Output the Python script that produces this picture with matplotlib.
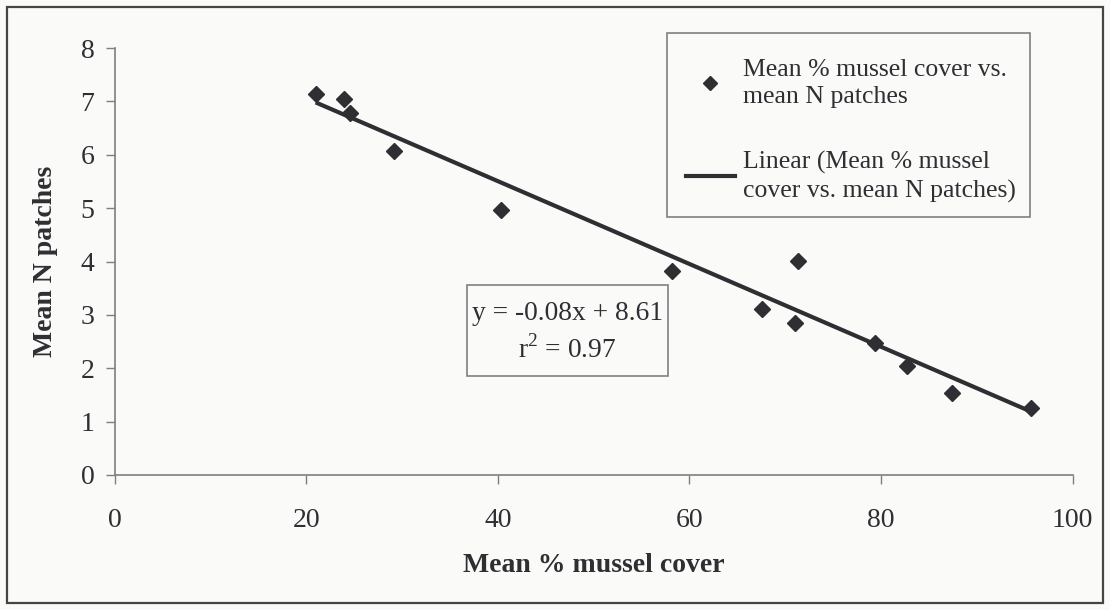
import matplotlib
matplotlib.use("Agg")
import matplotlib.pyplot as plt
from matplotlib.patches import Rectangle
from matplotlib.lines import Line2D
import numpy as np

# Mean % mussel cover vs. mean number of patches
mussel_cover = [21.0, 24.0, 24.6, 29.2, 40.3, 58.2, 67.6, 71.0, 71.3, 79.4, 82.7, 87.4, 95.7]
n_patches = [7.13, 7.05, 6.78, 6.07, 4.96, 3.83, 3.11, 2.84, 4.01, 2.48, 2.05, 1.53, 1.26]

# Linear trendline parameters
slope = -0.0776
intercept = 8.61
r_squared = 0.97

x_ticks = [0, 20, 40, 60, 80, 100]
y_ticks = [0, 1, 2, 3, 4, 5, 6, 7, 8]

x_title = "Mean % mussel cover"
y_title = "Mean N patches"
series_label = "Mean % mussel cover vs.\nmean N patches"
trend_label = "Linear (Mean % mussel\ncover vs. mean N patches)"

plt.rcParams["font.family"] = ["Liberation Serif", "DejaVu Serif"]
plt.rcParams["mathtext.fontset"] = "custom"
plt.rcParams["mathtext.rm"] = "Liberation Serif"

W, H = 1110, 610
bg = "#fafaf8"
ink = "#2e2e33"
axis_gray = "#7f7f7f"
box_gray = "#808080"

fig = plt.figure(figsize=(W / 100, H / 100), dpi=100, facecolor=bg)


def px_rect(x0, y0, x1, y1, **kw):
    """Rectangle given in pixel coordinates measured from the top-left corner."""
    return Rectangle((x0 / W, (H - y1) / H), (x1 - x0) / W, (y1 - y0) / H,
                     transform=fig.transFigure, **kw)


# outer chart frame
fig.patches.append(px_rect(7, 7, 1103, 603, fill=False,
                           edgecolor="#444444", linewidth=1.6))

ax_left, ax_right = 114.5, 1072.7
ax_top, ax_bottom = 48.0, 475.0
ax = fig.add_axes([ax_left / W, (H - ax_bottom) / H,
                   (ax_right - ax_left) / W, (ax_bottom - ax_top) / H])
ax.set_facecolor(bg)
ax.set_xlim(0, 100)
ax.set_ylim(0, 8)

for side in ("top", "right"):
    ax.spines[side].set_visible(False)
for side in ("left", "bottom"):
    ax.spines[side].set_color(axis_gray)
    ax.spines[side].set_linewidth(1.2)

ax.set_xticks(x_ticks)
ax.set_yticks(y_ticks)
ax.tick_params(axis="both", direction="out", length=6.5, width=1.0,
               color=axis_gray, labelsize=20, labelcolor=ink)
ax.tick_params(axis="x", pad=17)
ax.tick_params(axis="y", pad=8)

ax.set_xlabel(x_title, fontsize=20, fontweight="bold", color=ink, labelpad=15)
ax.set_ylabel(y_title, fontsize=20, fontweight="bold", color=ink, labelpad=16)

# data points
ax.plot(mussel_cover, n_patches, linestyle="none", marker="D", markersize=8.5,
        color=ink, label=series_label, zorder=3)

# trendline over the data range
x_fit = np.array([min(mussel_cover), max(mussel_cover)])
ax.plot(x_fit, slope * x_fit + intercept, color=ink, linewidth=3.0,
        solid_capstyle="butt", label=trend_label, zorder=2)

# legend box and entries
ax.add_patch(px_rect(667, 33, 1030, 217, fill=True, facecolor=bg,
                     edgecolor=box_gray, linewidth=1.2, zorder=4, clip_on=False))
handles = [
    Line2D([], [], linestyle="none", marker="D", markersize=7, color=ink),
    Line2D([], [], color=ink, linewidth=3.0),
]
leg = ax.legend(handles, [series_label, trend_label],
                loc="upper left",
                bbox_to_anchor=(686 / W, (H - 59) / H),
                bbox_transform=fig.transFigure,
                fontsize=18.5, frameon=False,
                borderpad=0, labelspacing=1.65, handlelength=1.9,
                handletextpad=0.3, borderaxespad=0)
leg.set_zorder(6)
for t in leg.get_texts():
    t.set_color(ink)
    t.set_linespacing(1.32)

# equation box
eq_text = f"y = {slope:.2f}x + {intercept:.2f}\nr$^{{2}}$ = {r_squared:.2f}"
fig.patches.append(px_rect(467, 285, 668, 376, fill=True, facecolor=bg,
                           edgecolor=box_gray, linewidth=1.2, zorder=5))
fig.text((467 + 668) / 2 / W, (H - (285 + 376) / 2 - 2) / H, eq_text,
         ha="center", va="center", multialignment="center",
         fontsize=19.8, color=ink, linespacing=1.4, zorder=6)

fig.savefig("out.png", dpi=100, facecolor=bg)
